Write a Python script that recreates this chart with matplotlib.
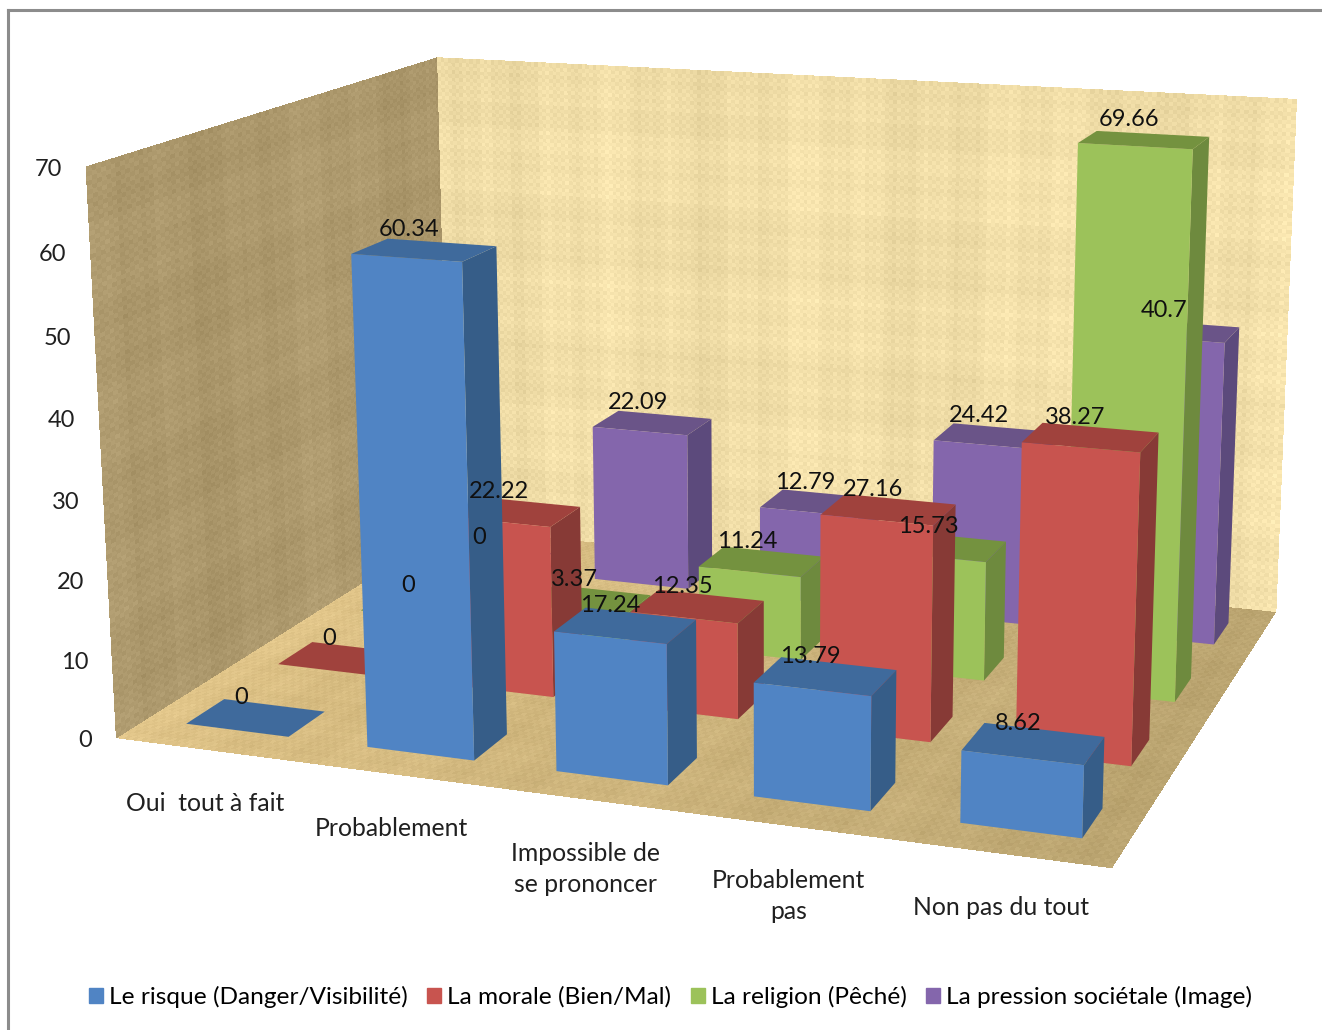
import numpy as np
import matplotlib
matplotlib.use('Agg')
import matplotlib.pyplot as plt
from matplotlib.patches import Patch
from matplotlib.lines import Line2D
from mpl_toolkits.mplot3d import proj3d

categories = ['Oui  tout à fait', 'Probablement', 'Impossible de\nse prononcer', 'Probablement\npas', 'Non pas du tout']
series_names = ['Le risque (Danger/Visibilité)', 'La morale (Bien/Mal)', 'La religion (Pêché)', 'La pression sociétale (Image)']
risque = [0, 60.34, 17.24, 13.79, 8.62]
morale = [0, 22.22, 12.35, 27.16, 38.27]
religion = [0, 3.37, 11.24, 15.73, 69.66]
pression = [0, 22.09, 12.79, 24.42, 40.7]
series_values = [risque, morale, religion, pression]
z_ticks = [0, 10, 20, 30, 40, 50, 60, 70]

# couleurs: face avant, dessus, cote droit
front_colors = ['#5084C4', '#C8544F', '#9CC25A', '#8466AC']
top_colors = ['#3F6A9C', '#A0423D', '#74923F', '#6A5488']
side_colors = ['#365D88', '#873A36', '#6E8A3E', '#5C4A7C']
bar_dx = 0.57
bar_dy = 0.40

W, H = 1322, 1030
plt.rcParams['font.family'] = ['Lato', 'DejaVu Sans']
fig = plt.figure(figsize=(W/100, H/100), dpi=100)

# camera et place de la boite dans la figure (en pixels)
scale = 7138.3
center_x, center_y = 728.1, 406.8
side = scale * 0.185
ax = fig.add_axes([(center_x - scale*0.095)/W, (H - center_y - scale*0.095)/H, side/W, side/H],
                  projection='3d', computed_zorder=False)
ax.view_init(elev=14.1527, azim=-69.9979, roll=0.2049)
ax.set_proj_type('persp', focal_length=0.4486)
ax.set_box_aspect((1, 0.7804, 0.5686))
ax.set_axis_off()
ax.patch.set_alpha(0)


def weave(nv, nu, seed):
    # trame de toile: fils verticaux et horizontaux plus un petit damier
    iu = np.arange(nu)[None, :]
    iv = np.arange(nv)[:, None]
    streak_u = np.sin(iu*0.11 + seed) + np.sin(iu*0.37 + seed) + 0.7*np.sin(iu*1.13 + 2*seed) + 0.6*np.sin(iu*2.71 + seed/3)
    streak_v = np.sin(iv*0.17 + seed) + np.sin(iv*0.51 + 3*seed) + 0.7*np.sin(iv*1.57 + seed) + 0.5*np.sin(iv*2.33)
    check = ((iu + iv) % 2)*2 - 1
    return 0.5*streak_u/3.3 + 0.35*streak_v/3.2 + 0.2*check


def surface(xx, yy, zz, colors, zo=1):
    ax.plot_surface(xx, yy, zz, facecolors=colors, shade=False, rstride=1, cstride=1,
                    linewidth=0, antialiased=False, zorder=zo)


# sol avec un degrade vers la droite
u = np.linspace(0, 5, 221)
v = np.linspace(0, 4, 91)
w = np.linspace(0, 70, 131)
X, Y = np.meshgrid(u, v)
t = np.linspace(0, 1, 220)[None, :, None]
floor_base = (1 - t)*np.array([222, 194, 134]) + t*np.array([188, 166, 114])
floor_rgb = floor_base + 13*weave(90, 220, 1.0)[:, :, None]
surface(X, Y, np.zeros_like(X), np.clip(floor_rgb/255, 0, 1))

# paroi gauche
Y, Z = np.meshgrid(v, w)
left_rgb = np.array([172, 152, 108]) + 15*weave(130, 90, 2.0)[:, :, None]
surface(np.zeros_like(Y), Y, Z, np.clip(left_rgb/255, 0, 1))

# paroi du fond
X, Z = np.meshgrid(u, w)
back_rgb = np.array([241, 222, 168]) + 19*weave(130, 220, 3.0)[:, :, None]
surface(X, np.full_like(X, 4), Z, np.clip(back_rgb/255, 0, 1))

# barres, du fond vers l'avant et de gauche a droite
clear = (0, 0, 0, 0)
for k in range(3, -1, -1):
    for i in range(5):
        val = series_values[k][i]
        cols = [clear, top_colors[k], front_colors[k], clear, clear, side_colors[k]]
        ax.bar3d(i + 0.51 - bar_dx/2, k + 0.5 - bar_dy/2, 0, bar_dx, bar_dy, val, color=cols, shade=False,
                 linewidth=0, zorder=10 + (3 - k)*10 + i)

ax.set_xlim(0, 5, view_margin=0)
ax.set_ylim(0, 4, view_margin=0)
ax.set_zlim(0, 70, view_margin=0)


def label3d(x, y, z, s, dx, dy, **kw):
    # texte place au point projete, avec un decalage en pixels
    px, py, _ = proj3d.proj_transform(x, y, z, ax.get_proj())
    ax.annotate(s, (px, py), xytext=(dx, dy), textcoords='offset pixels', zorder=200, **kw)


for k in range(4):
    for i in range(5):
        val = series_values[k][i]
        label3d(i + 0.5, k + 0.5, val, '%g' % val, -13, 20, ha='center', va='center', fontsize=17, color='#101010')

for t_val in z_ticks:
    label3d(0, 0, t_val, str(t_val), -24, -3, ha='right', va='center', fontsize=17, color='#202020')

for i, c in enumerate(categories):
    label3d(i + 0.5, 0, 0, c, -1, -43, ha='center', va='top', fontsize=17.8, linespacing=1.42, color='#202020')

handles = [Patch(color=c, label=n) for c, n in zip(front_colors, series_names)]
fig.legend(handles=handles, loc='center', bbox_to_anchor=(0.5072, 1 - 997/H), ncol=4, frameon=False, fontsize=17.6,
           handlelength=0.57, handleheight=0.57, handletextpad=0.25, columnspacing=0.8)

# cadre gris en haut et a gauche
fig.add_artist(Line2D([7.5/W, 7.5/W], [0, 1 - 9.5/H], color='#8C8C8C', linewidth=2.2))
fig.add_artist(Line2D([7.5/W, 1], [1 - 9.5/H, 1 - 9.5/H], color='#8C8C8C', linewidth=2.2))

fig.savefig('out.png', dpi=100)
